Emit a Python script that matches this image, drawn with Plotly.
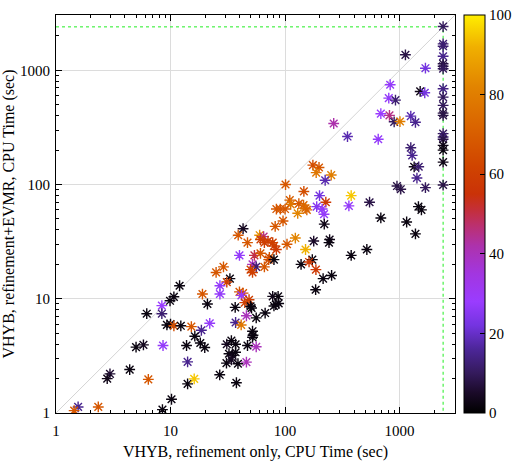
# -*- coding: utf-8 -*-

import plotly.graph_objs as go


TIMEOUT = 2400
AXIS_MAX = 3050

# runs that hit the time limit with refinement only (x = TIMEOUT)
timeout_evmr = [2415, 1703, 1623, 1327, 1140, 1086, 1031, 689, 582, 493,
                422, 403, 279, 261, 249, 220, 200, 157, 99]
timeout_pct = [10, 12, 12, 15, 8, 8, 10, 14, 10, 10,
               8, 8, 10, 12, 8, 3, 2, 3, 8]

cpu_refine = [
    1125, 1682, 828, 805, 921, 1513, 1659, 686, 816, 897,
    1008, 1253, 1376, 266, 351, 651, 1253, 1288, 1341, 1470,
    1418, 1682, 949, 1024, 175, 198, 187, 253, 224, 101,
    146, 200, 378, 547, 110, 112, 132, 145, 151, 155,
    227, 189, 211, 219, 361, 84, 91, 100, 129, 96,
    82, 220, 686, 1153, 1461, 1552, 1376, 43, 39, 47,
    60, 65, 61, 66, 71, 78, 80, 84, 104, 123,
    178, 245, 242, 151, 40, 54, 61, 73, 72, 80,
    52, 56, 50, 52, 66, 138, 173, 162, 186, 378,
    518, 255, 215, 185, 29, 25, 33, 31, 27, 27,
    19, 12, 10.7, 9.9, 21, 8.4, 8.4, 6.2, 9.3, 10,
    10.7, 12.3, 15.2, 22, 18.6, 16.3, 18.2, 19.9, 13.8, 8.6,
    5.0, 5.8, 14.1, 4.4, 2.96, 2.8, 6.4, 14.1, 16.1, 26.9,
    37.6, 10.2, 8.5, 1.56, 1.44, 2.34, 40, 43, 41.6, 48.5,
    44.5, 36.7, 50, 51, 56, 67, 46, 37, 41.4, 52,
    52.5, 52, 47, 56, 31, 34, 37, 32.4, 34.7, 37,
    30.8, 34, 38.8, 46, 78, 87, 83, 88, 80,
]
cpu_evmr = [
    1366, 1043, 747, 571, 548, 653, 636, 417, 403, 354,
    356, 397, 351, 342, 263, 249, 210, 180, 143, 143,
    114, 94, 97, 91, 148, 141, 127, 121, 109, 100,
    87, 80, 80, 70, 73, 67, 68, 66, 62, 60,
    70, 64, 61, 55, 65, 61, 61, 61, 56, 48,
    43, 45, 51, 47, 64, 60, 37, 41, 36, 31,
    36, 35, 33, 31, 32, 31, 29, 27, 30, 34,
    32, 33, 31, 27, 24, 24, 25, 23, 22, 22,
    20, 19, 18, 17, 19, 20, 22, 21, 18, 24,
    27, 16, 15, 12, 19, 17, 15, 14, 13, 11,
    11, 13, 10.4, 9.6, 9.0, 8.7, 7.4, 7.4, 5.9, 6.0,
    5.8, 5.8, 5.7, 6.1, 5.3, 4.7, 4.1, 3.74, 3.9, 3.9,
    3.77, 3.95, 2.8, 2.4, 2.2, 2.0, 1.97, 1.8, 1.99, 2.16,
    1.84, 1.32, 1.07, 1.13, 1.05, 1.13, 11.5, 11.2, 10.7, 9.8,
    9.25, 8.4, 8.6, 8.3, 6.8, 7.5, 7.1, 6.2, 5.9, 5.2,
    4.8, 4.6, 3.9, 3.8, 4.0, 4.3, 4.0, 3.3, 3.2, 3.4,
    2.73, 2.92, 2.7, 2.79, 10.5, 10.5, 8.9, 9.1, 8.65,
]
pct = [
    8, 22, 27, 27, 12, 3, 22, 28, 45, 10,
    80, 18, 15, 42, 18, 27, 12, 15, 3, 12,
    15, 10, 8, 8, 65, 68, 78, 80, 18, 68,
    65, 22, 95, 8, 70, 78, 68, 72, 75, 72,
    58, 25, 27, 27, 27, 68, 68, 68, 82, 68,
    68, 3, 2, 2, 2, 2, 2, 4, 68, 68,
    85, 45, 60, 60, 60, 60, 60, 58, 68, 82,
    5, 3, 2, 92, 27, 50, 68, 65, 65, 2,
    40, 12, 62, 60, 68, 2, 2, 58, 58, 2,
    2, 2, 2, 2, 68, 68, 2, 60, 27, 27,
    68, 2, 2, 2, 2, 28, 12, 2, 2, 2,
    65, 2, 68, 27, 15, 2, 2, 2, 2, 27,
    2, 4, 15, 2, 6, 3, 68, 2, 95, 2,
    2, 2, 2, 15, 68, 68, 68, 65, 27, 60,
    60, 2, 2, 2, 2, 2, 40, 15, 78, 2,
    2, 2, 2, 40, 4, 2, 2, 2, 3, 2,
    2, 4, 2, 40, 3, 2, 2, 2, 2,
]

PALETTE = [
    [0.00, "#000000"], [0.05, "#1a0a28"], [0.10, "#341a5c"],
    [0.16, "#4c2698"], [0.22, "#7434e0"], [0.28, "#9a3cff"],
    [0.35, "#a236e0"], [0.42, "#ad32ac"], [0.47, "#bb3070"],
    [0.51, "#c42f3a"], [0.55, "#ca3208"], [0.62, "#d04400"],
    [0.72, "#da6400"], [0.82, "#e28400"], [0.92, "#f0b000"],
    [1.00, "#ffee00"],
]

FONT = "Liberation Serif"


def axis_style(title, label_gap, title_gap):
    return dict(
        type="log",
        range=[0, 3.484],
        tickvals=[1, 10, 100, 1000],
        ticktext=["1", "10", "100", "1000"],
        ticks="inside",
        ticklen=6,
        tickcolor="black",
        ticklabelstandoff=label_gap,
        mirror="allticks",
        showline=True,
        linecolor="black",
        linewidth=1,
        showgrid=True,
        gridcolor="#dcdcdc",
        gridwidth=1,
        zeroline=False,
        automargin=False,
        minor=dict(ticks="inside", ticklen=3, tickcolor="black",
                   dtick="D1", showgrid=False),
        tickfont=dict(family=FONT, size=15, color="black"),
        title=dict(text=title, standoff=title_gap,
                   font=dict(family=FONT, size=16, color="black")),
    )


fig = go.Figure()

fig.add_trace(go.Scatter(
    x=[1, AXIS_MAX], y=[1, AXIS_MAX], mode="lines",
    line=dict(color="#d4d4d4", width=1), hoverinfo="skip", showlegend=False,
))

fig.add_trace(go.Scatter(
    x=[1, TIMEOUT, TIMEOUT], y=[TIMEOUT, TIMEOUT, 1], mode="lines",
    line=dict(color="#22ee22", width=1, dash="3px,3px"),
    hoverinfo="skip", showlegend=False,
))

fig.add_trace(go.Scatter(
    x=cpu_refine + [TIMEOUT] * len(timeout_evmr),
    y=cpu_evmr + timeout_evmr,
    mode="markers",
    showlegend=False,
    marker=dict(
        symbol="asterisk-open",
        size=9,
        color=pct + timeout_pct,
        colorscale=PALETTE,
        cmin=0,
        cmax=100,
        line=dict(width=1.4),
        colorbar=dict(
            x=1.022, xanchor="left", y=0.5, yanchor="middle",
            len=1, lenmode="fraction", thickness=21,
            outlinewidth=1, outlinecolor="black",
            xpad=0, ypad=0,
            tickvals=[0, 20, 40, 60, 80, 100],
            ticks="inside", ticklen=5, tickcolor="black",
            tickfont=dict(family=FONT, size=15, color="black"),
        ),
    ),
))

fig.update_layout(
    width=516,
    height=461,
    margin=dict(l=56, r=61, t=15, b=48, autoexpand=False),
    plot_bgcolor="white",
    paper_bgcolor="white",
    xaxis=axis_style("VHYB, refinement only, CPU Time (sec)", 4, 8),
    yaxis=axis_style("VHYB, refinement+EVMR, CPU Time (sec)", 2, 6),
)

# the page's default body margin would shift the figure by 8px
fig.write_html(
    "out.html",
    config={"displayModeBar": False},
    post_script="document.body.style.margin='0';",
)
